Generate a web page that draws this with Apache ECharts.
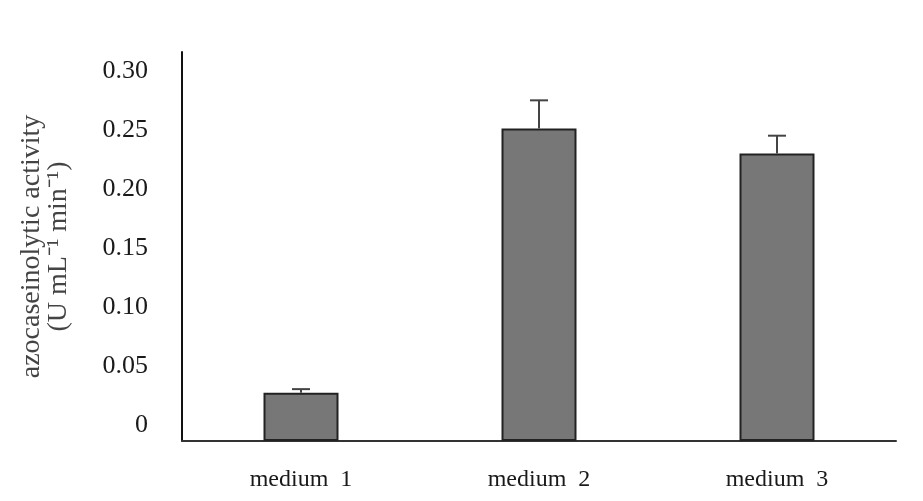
<!DOCTYPE html>
<html>
<head>
<meta charset="utf-8">
<script src="https://cdn.jsdelivr.net/npm/echarts@6/dist/echarts.min.js"></script>
<style>
  html, body { margin: 0; padding: 0; background: #fff; }
  #chart { width: 923px; height: 501px; }
</style>
</head>
<body>
<div id="chart"></div>
<script>
// data
const categories = ["medium  1", "medium  2", "medium  3"];
const activity = [0.041, 0.265, 0.244];
const errUp = [0.003, 0.024, 0.015];
const yTicks = [0, 0.05, 0.10, 0.15, 0.20, 0.25, 0.30];

const chart = echarts.init(document.getElementById("chart"));

const option = {
  animation: false,
  grid: { left: 182, right: 27, top: 52, bottom: 60 },
  xAxis: {
    type: "category",
    data: categories,
    axisLine: { lineStyle: { color: "#333", width: 2 } },
    axisTick: { show: false },
    axisLabel: {
      margin: 27,
      fontFamily: "Liberation Serif",
      fontSize: 24,
      color: "#1a1a1a",
    },
  },
  yAxis: {
    type: "value",
    min: 0,
    max: 0.33,
    interval: 0.05,
    name: "azocaseinolytic activity\n(U mL\u207B\u00B9 min\u207B\u00B9)",
    nameLocation: "middle",
    nameRotate: 90,
    nameGap: 110,
    nameTextStyle: {
      fontFamily: "Liberation Serif",
      fontSize: 28,
      color: "#444",
      lineHeight: 27,
    },
    axisLine: { show: true, lineStyle: { color: "#111", width: 2 } },
    axisTick: { show: false },
    splitLine: { show: false },
    axisLabel: {
      showMaxLabel: false,
      margin: 34,
      fontFamily: "Liberation Serif",
      fontSize: 26,
      color: "#1a1a1a",
      verticalAlign: "bottom",
      lineHeight: 32,
      formatter: (v) => (yTicks.indexOf(Math.round(v * 100) / 100) < 0 ? "" : v === 0 ? "0" : v.toFixed(2)),
    },
  },
  series: [
    {
      type: "bar",
      data: activity,
      barWidth: 75,
      itemStyle: { color: "#777777", borderColor: "#222", borderWidth: 2 },
      z: 2,
    },
    {
      type: "custom",
      z: 3,
      data: activity.map((v, i) => [i, v, v + errUp[i]]),
      renderItem: (params, api) => {
        const base = api.coord([api.value(0), api.value(1)]);
        const top = api.coord([api.value(0), api.value(2)]);
        const half = 9;
        const style = { stroke: "#444", lineWidth: 2 };
        return {
          type: "group",
          children: [
            { type: "line", shape: { x1: base[0], y1: base[1], x2: top[0], y2: top[1] }, style },
            { type: "line", shape: { x1: top[0] - half, y1: top[1], x2: top[0] + half, y2: top[1] }, style },
          ],
        };
      },
    },
  ],
};

chart.setOption(option);
</script>
</body>
</html>
